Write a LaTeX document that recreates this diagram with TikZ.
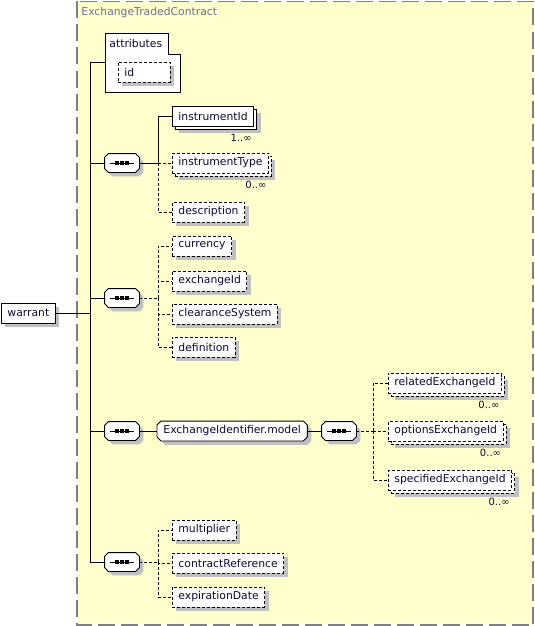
\documentclass[tikz,border=0pt]{standalone}
\usepackage{fontspec}
\setmainfont{DejaVu Sans}
\usetikzlibrary{shadows}

\definecolor{bgyellow}{RGB}{255,255,206}
\definecolor{framegray}{RGB}{128,128,128}
\definecolor{titlegray}{RGB}{110,110,150}
\definecolor{shadowgray}{RGB}{192,192,192}
\definecolor{textnavy}{RGB}{16,8,50}

% octagon outline round a node: node, x offset, y offset
\newcommand\seqshape[3]{([xshift=4pt+#2,yshift=#3]#1.north west) -- ([xshift=-4pt+#2,yshift=#3]#1.north east)
  -- ([xshift=#2,yshift=-4pt+#3]#1.north east) -- ([xshift=#2,yshift=4pt+#3]#1.south east)
  -- ([xshift=-4pt+#2,yshift=#3]#1.south east) -- ([xshift=4pt+#2,yshift=#3]#1.south west)
  -- ([xshift=#2,yshift=4pt+#3]#1.south west) -- ([xshift=#2,yshift=-4pt+#3]#1.north west) -- cycle}

\tikzset{
  box/.style={draw, fill=white, text=textnavy, font=\fontsize{10.8}{13}\selectfont,
    minimum height=20pt, inner xsep=6pt, inner ysep=0pt, anchor=west},
  shade1/.style={drop shadow={shadow xshift=4pt, shadow yshift=-4pt, fill=shadowgray, opacity=1, draw=none}},
  elem/.style={box, shade1},
  optelem/.style={box, dash pattern=on 3pt off 2pt, shade1},
  multi/.style={box,
    drop shadow={shadow xshift=7pt, shadow yshift=-7pt, fill=shadowgray, opacity=1, draw=none},
    copy shadow={shadow xshift=3pt, shadow yshift=-3pt, draw, fill=white}},
  optmulti/.style={multi, dash pattern=on 3pt off 2pt},
  optline/.style={dash pattern=on 3pt off 2pt},
  octframe/.style={append after command={\pgfextra{
      \fill[shadowgray] \seqshape{\tikzlastnode}{4pt}{-4pt};
      \draw[fill=white] \seqshape{\tikzlastnode}{0pt}{0pt};
    }}},
  seqbox/.style={minimum width=34pt, minimum height=18pt, inner sep=0pt, octframe,
    append after command={\pgfextra{
      \draw ([xshift=5pt]\tikzlastnode.west) -- ([xshift=-5pt]\tikzlastnode.east);
      \foreach \dx in {-5,0,5}
        \fill[black] ([xshift=\dx pt]\tikzlastnode.center) +(-1.7pt,-1.7pt) rectangle +(1.7pt,1.7pt);
    }}},
  groupbox/.style 2 args={anchor=west, font=\fontsize{10.8}{13}\selectfont, text opacity=0,
    text height=8pt, text depth=2.5pt, minimum height=19pt, inner xsep=6pt, inner ysep=0pt, octframe,
    label={[name=#2, text=textnavy, font=\fontsize{10.8}{13}\selectfont]center:#1}},
  mult/.style={font=\fontsize{10}{12}\selectfont, text=textnavy, inner sep=1pt, anchor=north east},
  title/.style={font=\fontsize{10.8}{13}\selectfont, text=titlegray, anchor=west, inner sep=0pt}
}

\begin{document}
\begin{tikzpicture}[x=1pt,y=-1pt,line width=0.9pt]
\useasboundingbox (0,0) rectangle (535,626);
% Type frame
\draw[framegray,line width=1.5pt,dash pattern=on 17pt off 6pt,fill=bgyellow] (77,1.5) rectangle (533,625);
\node[title] (typeName) at (81,13) {ExchangeTradedContract};
% Root element and trunk
\node[elem] (warrant) at (1,313) {warrant};
\coordinate (trunkTop) at (90,62);
\coordinate (trunkBot) at (90,562);
\draw (trunkTop) -- (trunkBot);
\draw (warrant.east) -- (warrant.east -| trunkTop);
% Attributes
\draw[fill=white] (105,33) -- (168,33) -- (168,54) -- (180,54) -- (180,92) -- (105,92) -- cycle;
\node[title,text=textnavy] (attrs) at (109,43) {attributes};
\node[optelem,text width=40pt] (idAttr) at (118,72) {id};
\coordinate (attrL) at (105,62);
\draw (trunkTop) -- (attrL);
% Sequences on the trunk
\foreach \name/\y in {s1/163,s2/298,s3/431,s5/562} {
  \node[seqbox] (\name) at (122,\y) {};
  \draw (\name.west -| trunkTop) -- (\name.west);
}
% Sequence 1
\coordinate (b1) at (158,163);
\node[multi] (instrId) at (172,116) {instrumentId};
\node[mult] (instrIdNum) at ([shift={(-1,6)}]instrId.south east) {1..∞};
\node[optmulti] (instrType) at (172,163) {instrumentType};
\node[mult] (instrTypeNum) at ([shift={(-1,6)}]instrType.south east) {0..∞};
\node[optelem] (descr) at (172,212) {description};
\draw (s1.east) -- (b1) |- (instrId.west);
\draw[optline] (b1) -- (instrType.west);
\draw[optline] (b1) |- (descr.west);
% Sequence 2
\coordinate (b2) at (158,298);
\draw[optline] (s2.east) -- (b2);
\foreach \name/\y/\txt in {currency/246/currency, exchId/281/exchangeId, clearSys/314/clearanceSystem, defn/347/definition} {
  \node[optelem] (\name) at (172,\y) {\txt};
  \draw[optline] (b2) |- (\name.west);
}
% Sequence 3 with model group
\node[groupbox={ExchangeIdentifier.model}{exIdText}] (exIdModel) at (157,431) {ExchangeIdentifier.model};
\node[seqbox] (s4) at (339,431) {};
\coordinate (b4) at (373,431);
\draw (s3.east) -- (exIdModel.west);
\draw (exIdModel.east) -- (s4.west);
\draw[optline] (s4.east) -- (b4);
\foreach \name/\y/\txt in {relExId/383/relatedExchangeId, optExId/431/optionsExchangeId, specExId/480/specifiedExchangeId} {
  \node[optmulti] (\name) at (388,\y) {\txt};
  \node[mult] (\name Num) at ([shift={(-1,6)}]\name.south east) {0..∞};
  \draw[optline] (b4) |- (\name.west);
}
% Sequence 5
\coordinate (b5) at (158,562);
\draw[optline] (s5.east) -- (b5);
\foreach \name/\y/\txt in {multiplier/530/multiplier, contractRef/563/contractReference, expDate/597/expirationDate} {
  \node[optelem] (\name) at (172,\y) {\txt};
  \draw[optline] (b5) |- (\name.west);
}
\end{tikzpicture}
\end{document}
